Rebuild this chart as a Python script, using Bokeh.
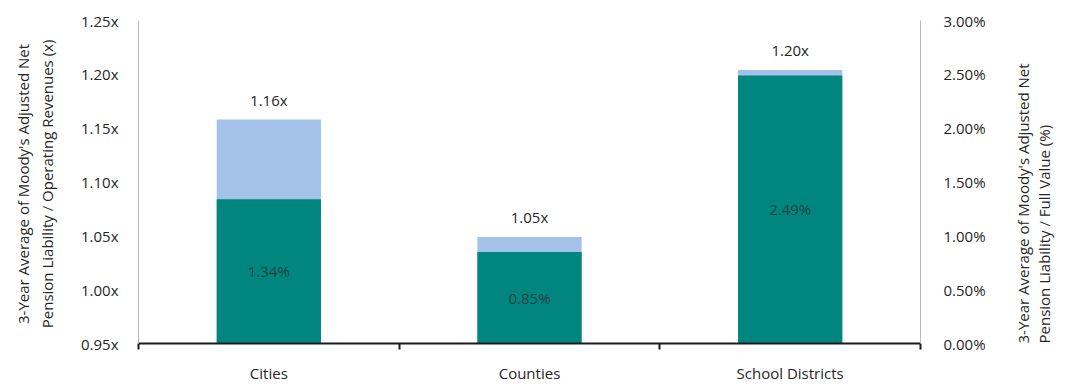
import math

from bokeh.embed import file_html
from bokeh.core.properties import value
from bokeh.models import (ColumnDataSource, FixedTicker, LinearAxis,
                          PrintfTickFormatter, Range1d)
from bokeh.plotting import figure
from bokeh.resources import INLINE

# --- data -------------------------------------------------------------------
categories = ["Cities", "Counties", "School Districts"]
# 3-year average adjusted net pension liability / operating revenues (x)
revenue_ratio = [1.158, 1.049, 1.204]
# 3-year average adjusted net pension liability / full value (%)
full_value_pct = [1.34, 0.85, 2.49]

left_ticks = [0.95, 1.00, 1.05, 1.10, 1.15, 1.20, 1.25]
right_ticks = [0.0, 0.5, 1.0, 1.5, 2.0, 2.5, 3.0]

left_title = "3-Year Average  of Moody's Adjusted Net\nPension Liability / Operating Revenues  (x)"
right_title_1 = "3-Year Average of Moody's Adjusted Net"
right_title_2 = "Pension Liability / Full Value (%)"

FONT = "Open Sans"
FS = "15px"
LIGHT_BLUE = "#a4c1ea"
TEAL = "#00867f"
TEXT = "#262626"

pos = [i + 0.5 for i in range(len(categories))]

src = ColumnDataSource(dict(
    x=pos,
    cat=categories,
    ratio=revenue_ratio,
    ratio_txt=[f"{v:.2f}x" for v in revenue_ratio],
    pct=full_value_pct,
    pct_mid=[v / 2 for v in full_value_pct],
    pct_txt=[f"{v:.2f}%" for v in full_value_pct],
))

p = figure(width=1066, height=385, output_backend="svg", toolbar_location=None,
           x_range=Range1d(0, len(categories)), y_range=Range1d(0.95, 1.25),
           min_border_left=138, min_border_right=138,
           min_border_top=20, min_border_bottom=33)
p.extra_y_ranges = {"pct": Range1d(0, 3.0)}
p.outline_line_color = None
p.xgrid.visible = False
p.ygrid.visible = False

# ratio bars (left scale) behind, full-value bars (right scale) in front
p.vbar(x="x", width=0.4, bottom=0.95, top="ratio", source=src,
       fill_color=LIGHT_BLUE, line_color=None)
p.vbar(x="x", width=0.4, bottom=0, top="pct", source=src, y_range_name="pct",
       fill_color=TEAL, line_color=None)

p.text(x="x", y="ratio", text="ratio_txt", source=src,
       text_font=value(FONT), text_font_size=FS, text_color=TEXT,
       text_align="center", text_baseline="bottom", y_offset=-10)
p.text(x="x", y="pct_mid", text="pct_txt", source=src, y_range_name="pct",
       text_font=value(FONT), text_font_size=FS, text_color="#24433f",
       text_align="center", text_baseline="middle")

# bottom category axis with boundary ticks
xa = p.xaxis[0]
xa.ticker = FixedTicker(ticks=pos, minor_ticks=list(range(len(categories) + 1)))
xa.major_label_overrides = {p_: c for p_, c in zip(pos, categories)}
xa.major_tick_line_color = None
xa.minor_tick_line_color = "#1a1a1a"
xa.minor_tick_out = 6
xa.minor_tick_in = 0
xa.minor_tick_line_width = 2
xa.axis_line_color = "#1a1a1a"
xa.axis_line_width = 2
xa.major_label_standoff = 13
xa.major_label_text_font = FONT
xa.major_label_text_font_size = FS
xa.major_label_text_color = TEXT

# left axis
ya = p.yaxis[0]
ya.ticker = FixedTicker(ticks=left_ticks)
ya.formatter = PrintfTickFormatter(format="%.2fx")
ya.major_tick_line_color = None
ya.minor_tick_line_color = None
ya.axis_line_color = "#b8b8b8"
ya.major_label_standoff = 14
ya.major_label_text_font = FONT
ya.major_label_text_font_size = FS
ya.major_label_text_color = TEXT
ya.axis_label = left_title
ya.axis_label_text_font = FONT
ya.axis_label_text_font_size = FS
ya.axis_label_text_font_style = "normal"
ya.axis_label_text_color = TEXT
ya.axis_label_standoff = 21


def style_title(ax, text, standoff):
    ax.axis_label = text
    ax.axis_label_text_font = FONT
    ax.axis_label_text_font_size = FS
    ax.axis_label_text_font_style = "normal"
    ax.axis_label_text_color = TEXT
    ax.axis_label_standoff = standoff
    ax.axis_label_orientation = math.pi / 2   # read bottom-to-top
    ax.axis_label_align = "start"


# right axis with ticks, carrying the first title line
ra = LinearAxis(y_range_name="pct", ticker=FixedTicker(ticks=right_ticks),
                formatter=PrintfTickFormatter(format="%.2f%%"))
ra.major_tick_line_color = None
ra.minor_tick_line_color = None
ra.axis_line_color = "#b8b8b8"
ra.major_label_standoff = 17
ra.major_label_text_font = FONT
ra.major_label_text_font_size = FS
ra.major_label_text_color = TEXT
style_title(ra, right_title_1, 34)
p.add_layout(ra, "right")

# bare outer axis carrying the second title line
ra2 = LinearAxis(y_range_name="pct", ticker=FixedTicker(ticks=[]))
ra2.axis_line_color = None
ra2.major_tick_line_color = None
ra2.minor_tick_line_color = None
ra2.major_tick_out = 0
ra2.major_tick_in = 0
ra2.major_label_standoff = 0
style_title(ra2, right_title_2, -2)
p.add_layout(ra2, "right")

open("out.html", "w").write(file_html(p, INLINE))
